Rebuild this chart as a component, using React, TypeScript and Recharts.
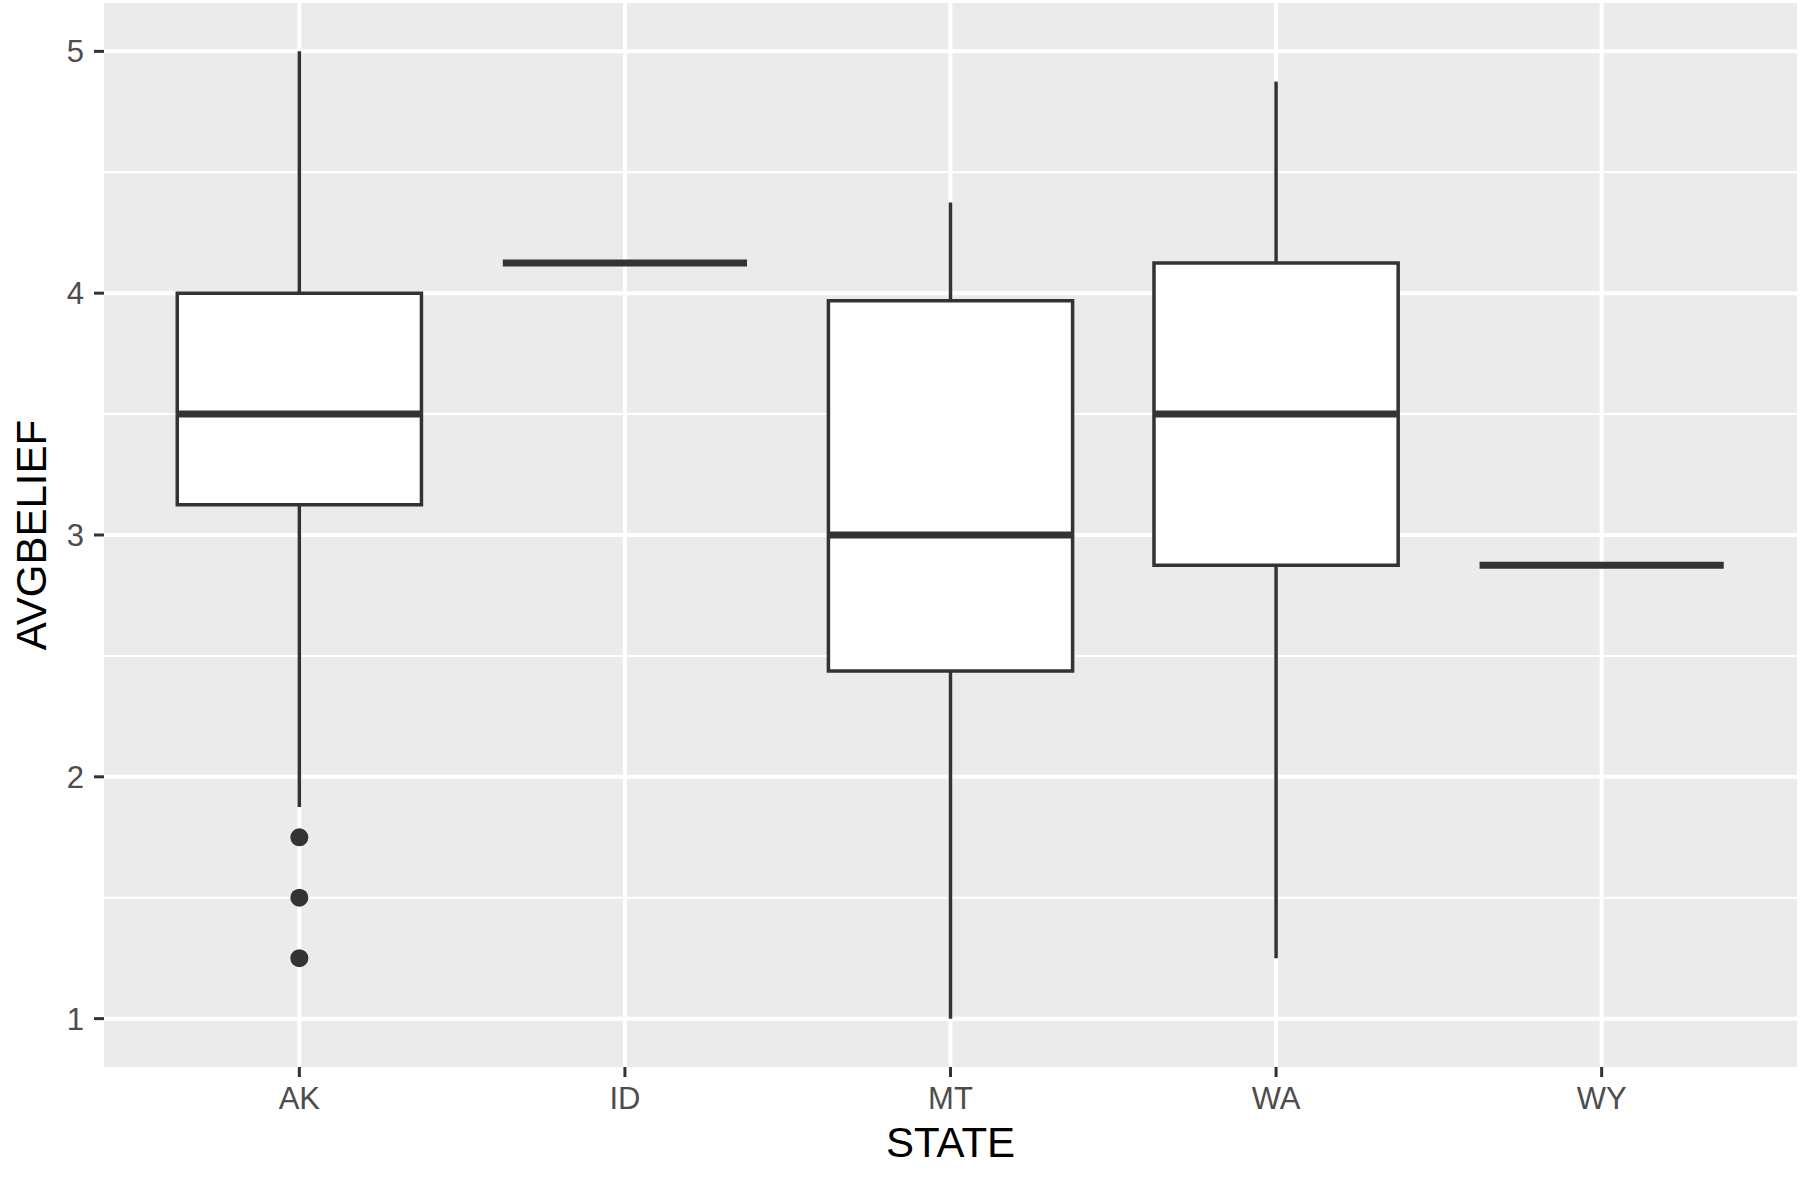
import React from 'react';
import {
  ComposedChart,
  XAxis,
  YAxis,
  CartesianGrid,
  ReferenceArea,
  ReferenceLine,
  Scatter,
} from 'recharts';

const states = ['AK', 'ID', 'MT', 'WA', 'WY'];
const positions = [1, 2, 3, 4, 5];
const lowerWhisker = [1.875, 4.125, 1.0, 1.25, 2.875];
const q1 = [3.125, 4.125, 2.4375, 2.875, 2.875];
const median = [3.5, 4.125, 3.0, 3.5, 2.875];
const q3 = [4.0, 4.125, 3.96875, 4.125, 2.875];
const upperWhisker = [5.0, 4.125, 4.375, 4.875, 2.875];
const outlierState = ['AK', 'AK', 'AK'];
const outlierValue = [1.75, 1.5, 1.25];

const yTicks = [1, 2, 3, 4, 5];
const yMinor = [1.5, 2.5, 3.5, 4.5];

const FONT = '"Liberation Sans", Arial, Helvetica, sans-serif';
const INK = '#333333';
const HALF = 0.375;

const outlierData = outlierState.map((s, i) => ({
  x: positions[states.indexOf(s)],
  y: outlierValue[i],
}));

const XTitle = (props: any) => {
  const vb = props.viewBox || {};
  return (
    <text
      x={vb.x + vb.width / 2}
      y={vb.y + 90}
      textAnchor="middle"
      fontSize={42}
      fontFamily={FONT}
      fill="#000"
    >
      STATE
    </text>
  );
};

const YTitle = (props: any) => {
  const vb = props.viewBox || {};
  const cx = 46;
  const cy = vb.y + vb.height / 2;
  return (
    <text
      x={cx}
      y={cy}
      transform={`rotate(-90 ${cx} ${cy})`}
      textAnchor="middle"
      fontSize={42}
      fontFamily={FONT}
      fill="#000"
    >
      AVGBELIEF
    </text>
  );
};

export default function App() {
  return (
    <div style={{ position: 'absolute', left: 0, top: 0, width: 1800, height: 1180, background: '#fff' }}>
      <ComposedChart
        width={1800}
        height={1180}
        margin={{ top: 3, right: 3, bottom: 0, left: 0 }}
      >
        <CartesianGrid
          fill="#EBEBEB"
          stroke="#FFFFFF"
          strokeWidth={2}
          vertical={false}
          horizontalValues={yMinor}
        />
        <CartesianGrid
          stroke="#FFFFFF"
          strokeWidth={4}
          horizontalValues={yTicks}
          verticalValues={positions}
        />
        <XAxis
          type="number"
          dataKey="x"
          domain={[0.4, 5.6]}
          ticks={positions}
          tickFormatter={(v: number) => states[v - 1]}
          height={113}
          axisLine={false}
          tickSize={10}
          tickMargin={10}
          tickLine={{ stroke: INK, strokeWidth: 3 }}
          tick={{ fill: '#4D4D4D', fontSize: 31, fontFamily: FONT }}
          allowDataOverflow
          label={<XTitle />}
        />
        <YAxis
          type="number"
          dataKey="y"
          domain={[0.8, 5.2]}
          ticks={yTicks}
          width={104}
          axisLine={false}
          tickSize={10}
          tickMargin={10}
          tickLine={{ stroke: INK, strokeWidth: 3 }}
          tick={{ fill: '#4D4D4D', fontSize: 31, fontFamily: FONT }}
          allowDataOverflow
          label={<YTitle />}
        />
        {positions.map((p, i) => (
          <ReferenceLine
            key={`wu-${i}`}
            segment={[
              { x: p, y: q3[i] },
              { x: p, y: upperWhisker[i] },
            ]}
            stroke={INK}
            strokeWidth={3.5}
          />
        ))}
        {positions.map((p, i) => (
          <ReferenceLine
            key={`wl-${i}`}
            segment={[
              { x: p, y: lowerWhisker[i] },
              { x: p, y: q1[i] },
            ]}
            stroke={INK}
            strokeWidth={3.5}
          />
        ))}
        {positions.map((p, i) => (
          <ReferenceArea
            key={`box-${i}`}
            x1={p - HALF}
            x2={p + HALF}
            y1={q1[i]}
            y2={q3[i]}
            fill="#FFFFFF"
            fillOpacity={1}
            stroke={INK}
            strokeWidth={3.5}
          />
        ))}
        {positions.map((p, i) => (
          <ReferenceLine
            key={`med-${i}`}
            segment={[
              { x: p - HALF, y: median[i] },
              { x: p + HALF, y: median[i] },
            ]}
            stroke={INK}
            strokeWidth={7}
          />
        ))}
        <Scatter
          data={outlierData}
          dataKey="y"
          isAnimationActive={false}
          shape={(props: any) => <circle cx={props.cx} cy={props.cy} r={9} fill={INK} />}
        />
      </ComposedChart>
    </div>
  );
}
